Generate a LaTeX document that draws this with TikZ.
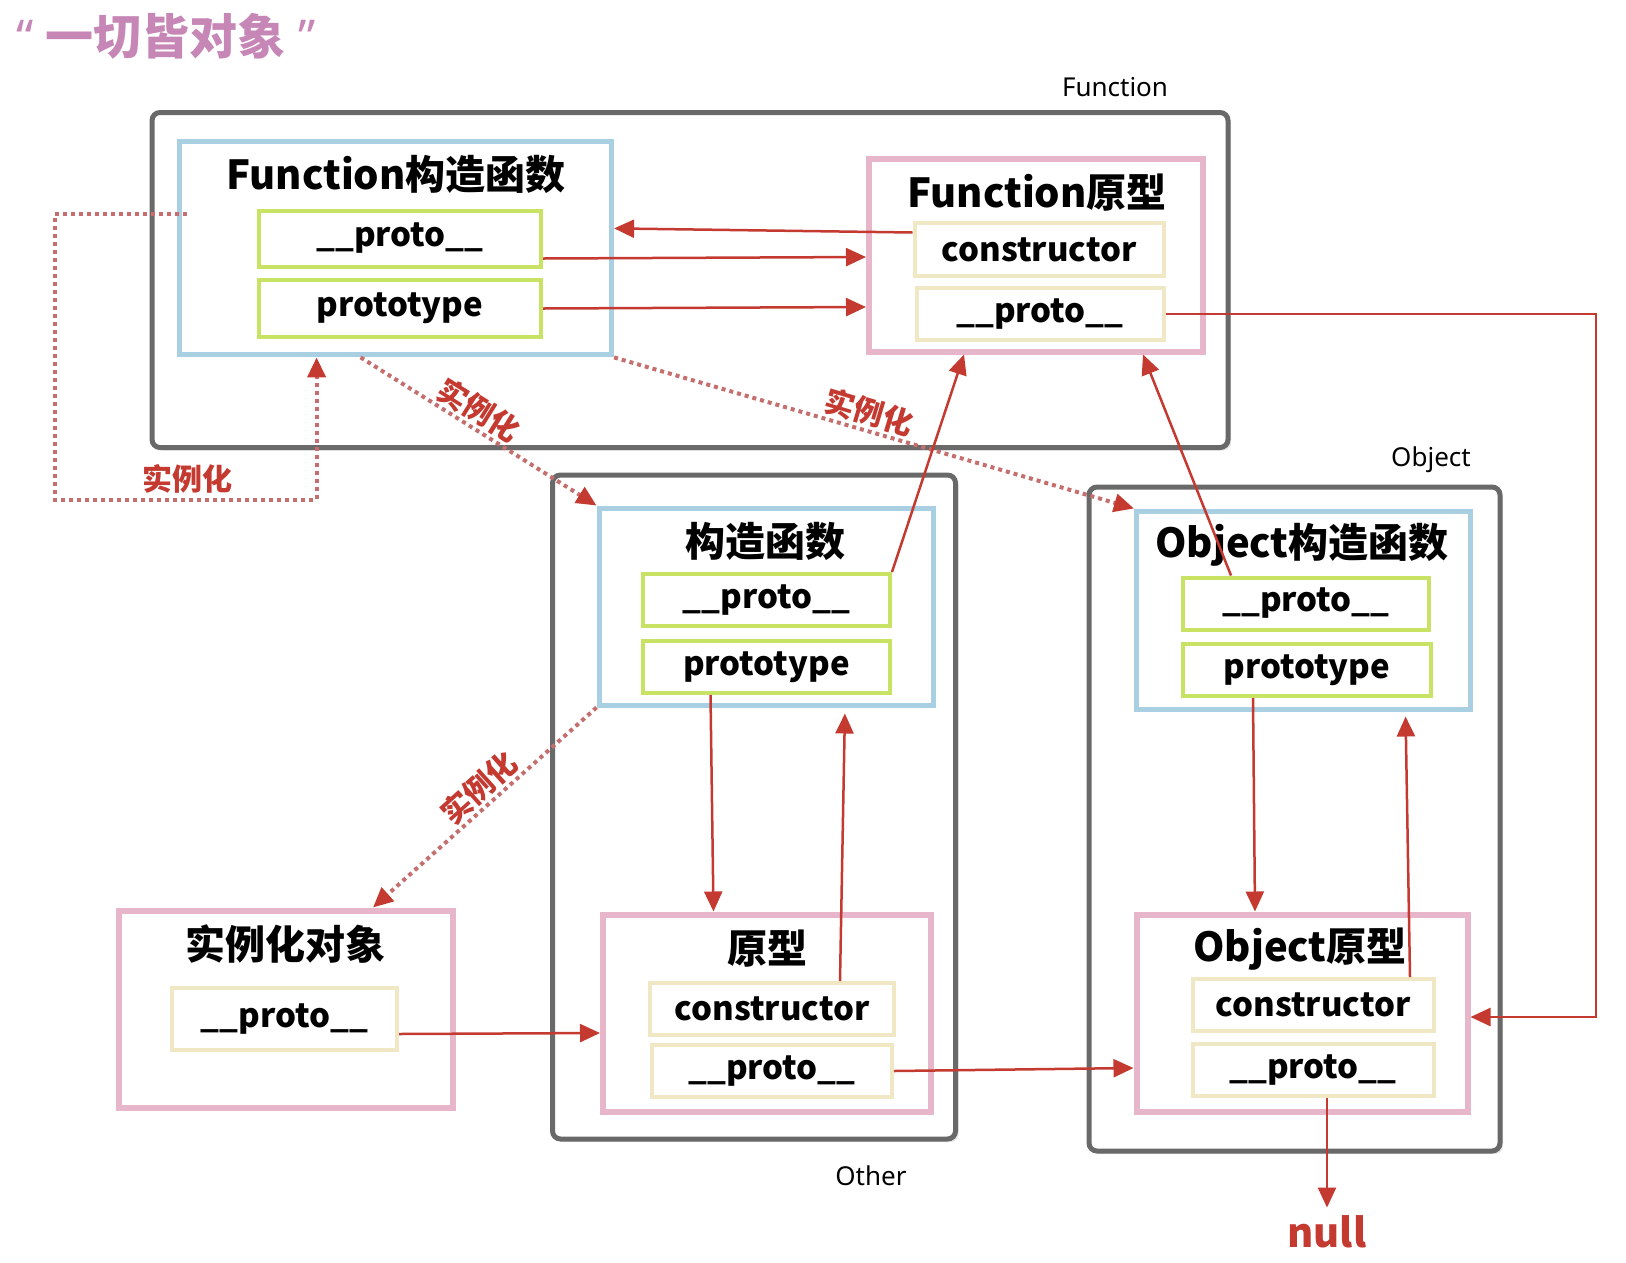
\documentclass[tikz,border=0pt]{standalone}
\usepackage{fontspec}
\setmainfont{Noto Sans}
\newfontfamily\cjk{Noto Sans CJK SC}
\usetikzlibrary{arrows.meta, shadows}

\definecolor{groupgray}{RGB}{105,105,105}
\definecolor{ctorblue}{RGB}{168,208,226}
\definecolor{slotgreen}{RGB}{200,226,100}
\definecolor{protopink}{RGB}{232,182,202}
\definecolor{slotcream}{RGB}{240,232,196}
\definecolor{linkred}{RGB}{196,58,48}
\definecolor{instred}{RGB}{196,110,110}
\definecolor{titlepink}{RGB}{198,134,182}

\begin{document}
\begin{tikzpicture}[
    x=1pt, y=-1pt,
    group/.style={rectangle, rounded corners=8pt, draw=groupgray, line width=5pt, fill=white, inner sep=0pt,
        drop shadow={opacity=0.2, shadow xshift=3pt, shadow yshift=-3pt}},
    ctorbox/.style={rectangle, draw=ctorblue, line width=5pt, inner sep=0pt},
    protobox/.style={rectangle, draw=protopink, line width=6pt, inner sep=0pt},
    greenslot/.style={rectangle, draw=slotgreen, line width=4pt, inner sep=0pt, font=\cjk\bfseries\fontsize{33pt}{36pt}\selectfont},
    creamslot/.style={rectangle, draw=slotcream, line width=4pt, inner sep=0pt, font=\cjk\bfseries\fontsize{33pt}{36pt}\selectfont},
    boxtitle/.style={font=\cjk\bfseries\fontsize{40pt}{44pt}\selectfont},
    grouplabel/.style={font=\fontsize{26pt}{30pt}\selectfont},
    link/.style={-{Triangle[length=20pt,width=18pt]}, draw=linkred, line width=2.5pt},
    inst/.style={-{Triangle[length=20pt,width=18pt,color=linkred]}, draw=instred, line width=4pt, dash pattern=on 4pt off 4pt},
    instlabel/.style={text=linkred, font=\cjk\bfseries\fontsize{30pt}{32pt}\selectfont}
]
\useasboundingbox (0,0) rectangle (1626,1262);

% title and group frames
\node[text=titlepink, font=\bfseries\fontsize{48pt}{52pt}\selectfont] (slogan) at (166,36) {“ {\cjk\bfseries 一切皆对象} ”};

\node[group, minimum width=1076pt, minimum height=335pt] (fnGroup) at (690,280) {};
\node[group, minimum width=403pt, minimum height=664pt] (otherGroup) at (754,807) {};
\node[group, minimum width=411pt, minimum height=664pt] (objGroup) at (1294.5,819) {};

\node[grouplabel] (fnLabel) at (1115,87) {Function};
\node[grouplabel] (objLabel) at (1431,460) {Object};
\node[grouplabel] (otherLabel) at (871,1176) {Other};

% Function
\node[ctorbox, minimum width=432pt, minimum height=213pt] (fnCtor) at (395.6,248.4) {};
\node[boxtitle] (fnCtorTitle) at (396,174) {Function构造函数};
\node[greenslot, minimum width=282pt, minimum height=56pt] (fnCtorProto) at (400,238.5) {\_\_proto\_\_};
\node[greenslot, minimum width=282pt, minimum height=57pt] (fnCtorType) at (400,308.5) {prototype};

\node[protobox, minimum width=334pt, minimum height=193pt] (fnProto) at (1036,255) {};
\node[boxtitle] (fnProtoTitle) at (1037,193) {Function原型};
\node[creamslot, minimum width=249pt, minimum height=53pt] (fnProtoCons) at (1039,249.5) {constructor};
\node[creamslot, minimum width=247pt, minimum height=52pt] (fnProtoProto) at (1040,314) {\_\_proto\_\_};

% Other
\node[ctorbox, minimum width=334pt, minimum height=197pt] (otherCtor) at (766,606.5) {};
\node[boxtitle] (otherCtorTitle) at (765,541) {构造函数};
\node[greenslot, minimum width=247pt, minimum height=52pt] (otherCtorProto) at (766.5,600) {\_\_proto\_\_};
\node[greenslot, minimum width=247pt, minimum height=52pt] (otherCtorType) at (766.5,667) {prototype};

\node[protobox, minimum width=328pt, minimum height=197pt] (otherProto) at (767,1013) {};
\node[boxtitle] (otherProtoTitle) at (767,949) {原型};
\node[creamslot, minimum width=244pt, minimum height=52pt] (otherProtoCons) at (772,1009) {constructor};
\node[creamslot, minimum width=240pt, minimum height=52pt] (otherProtoProto) at (772,1071) {\_\_proto\_\_};

% instance
\node[protobox, minimum width=334pt, minimum height=197pt] (inst) at (286,1009) {};
\node[boxtitle] (instTitle) at (285,944) {实例化对象};
\node[creamslot, minimum width=225pt, minimum height=62pt] (instProto) at (284.5,1019) {\_\_proto\_\_};

% Object
\node[ctorbox, minimum width=334pt, minimum height=198pt] (objCtor) at (1303.5,610) {};
\node[boxtitle] (objCtorTitle) at (1302,545) {Object构造函数};
\node[greenslot, minimum width=246pt, minimum height=52pt] (objCtorProto) at (1306,603.5) {\_\_proto\_\_};
\node[greenslot, minimum width=248pt, minimum height=52pt] (objCtorType) at (1307,670) {prototype};

\node[protobox, minimum width=331pt, minimum height=197pt] (objProto) at (1302,1013) {};
\node[boxtitle] (objProtoTitle) at (1300,949) {Object原型};
\node[creamslot, minimum width=241pt, minimum height=52pt] (objProtoCons) at (1313,1005) {constructor};
\node[creamslot, minimum width=241pt, minimum height=52pt] (objProtoProto) at (1313,1070) {\_\_proto\_\_};

\node[text=linkred, inner sep=8pt, font=\cjk\bfseries\fontsize{40pt}{44pt}\selectfont] (null) at (1327,1232) {null};

% instantiation (dotted)
\coordinate (loopCorner) at (55,500);
\draw[inst] ([xshift=10pt, yshift=34pt]fnCtor.west) -| (loopCorner) -| ([xshift=-79pt]fnCtor.south);
\node[instlabel] (loopLabel) at (187,479) {实例化};

\draw[inst] ([xshift=-35pt]fnCtor.south) -- (otherCtor.north west);
\node[instlabel, rotate=-32] (instLabelA) at (479,410) {实例化};
\draw[inst] (fnCtor.south east) -- (objCtor.north west);
\node[instlabel, rotate=-16.5] (instLabelB) at (869,412) {实例化};
\draw[inst] (otherCtor.south west) -- ([xshift=87pt]inst.north);
\node[instlabel, rotate=42] (instLabelC) at (479,788) {实例化};

% prototype links
\draw[link] ([yshift=17pt]fnProtoCons.west) -- ([yshift=20pt]fnCtor.east);
\draw[link] ([yshift=-20pt]fnCtorProto.east) -- ([yshift=-2pt]fnProto.west);
\draw[link] (fnCtorType.east) -- ([yshift=-52pt]fnProto.west);

\draw[link] (otherCtorProto.north east) -- ([xshift=-72pt]fnProto.south);
\draw[link] ([xshift=-56pt]otherCtorType.south) -- ([xshift=-53.5pt]otherProto.north);
\draw[link, shorten >=6pt] ([xshift=68pt]otherProtoCons.north) -- ([xshift=79pt]otherCtor.south);
\draw[link] (otherProtoProto.east) -- ([yshift=-55pt]objProto.west);
\draw[link] ([yshift=-15pt]instProto.east) -- ([yshift=-20pt]otherProto.west);

\draw[link] ([xshift=-75pt]objCtorProto.north) -- ([xshift=107pt]fnProto.south);
\draw[link] ([xshift=-54pt]objCtorType.south) -- ([xshift=-47pt]objProto.north);
\draw[link, shorten >=5pt] ([xshift=97pt]objProtoCons.north) -- ([xshift=102pt]objCtor.south);
\draw[link] ([xshift=14pt]objProtoProto.south) -- (null.north);

\coordinate (routeTop) at (1596,314);
\draw[link] (fnProtoProto.east) -- (routeTop) |- ([yshift=-4pt]objProto.east);

\end{tikzpicture}
\end{document}
